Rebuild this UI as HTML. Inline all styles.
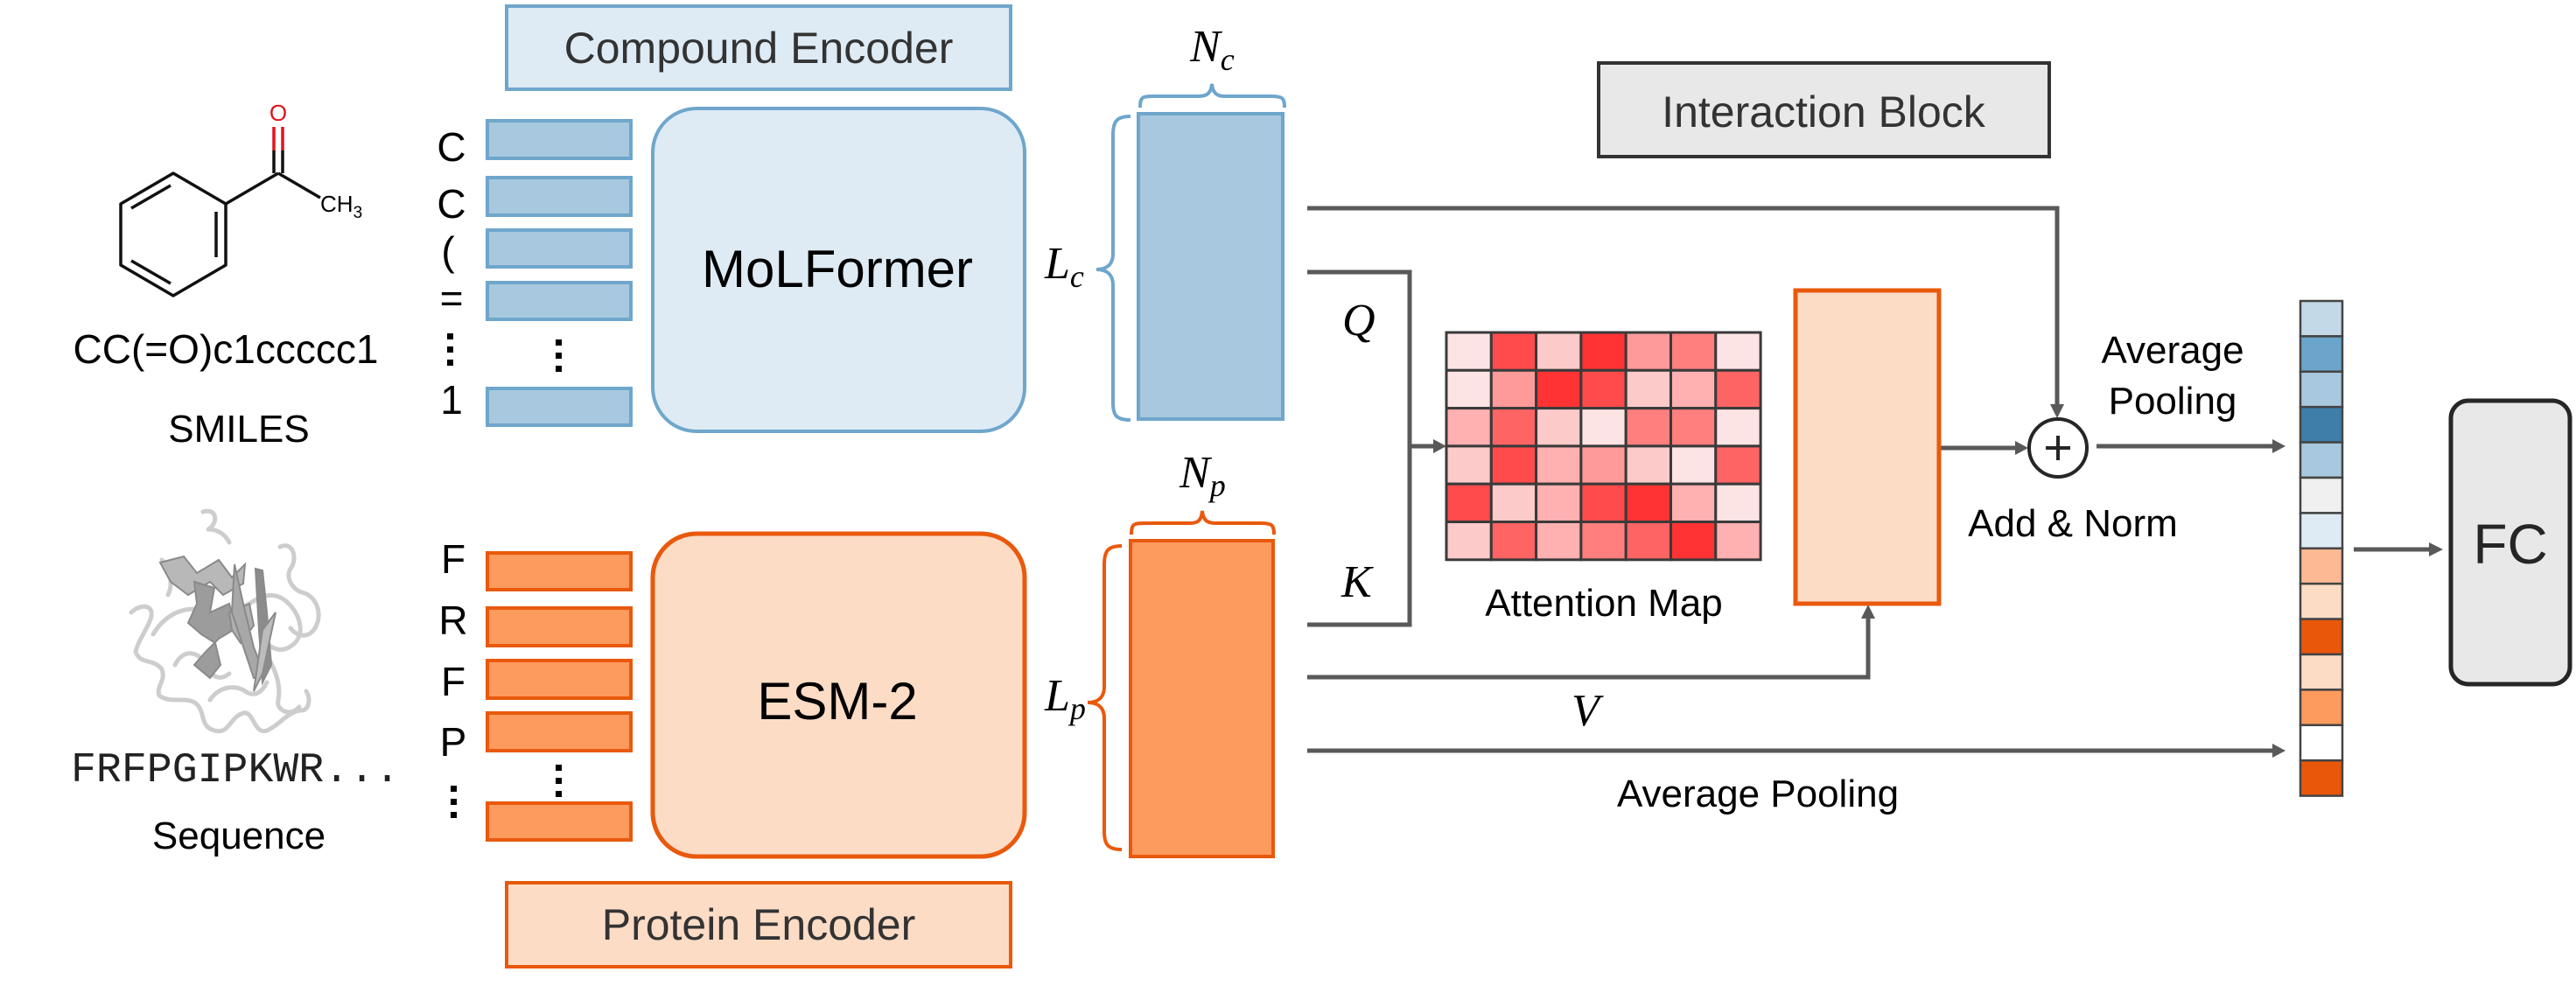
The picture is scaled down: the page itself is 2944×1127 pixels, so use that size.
<!DOCTYPE html>
<html><head><meta charset="utf-8"><style>
html,body{margin:0;padding:0;background:#fff;}
svg{display:block;}
text{font-family:"Liberation Sans",sans-serif;fill:#000;}
.m{font-family:"Liberation Serif",serif;font-style:italic;}
.mono{font-family:"Liberation Mono",monospace;}
</style></head><body>
<svg width="2944" height="1127" viewBox="0 0 2944 1127" xmlns="http://www.w3.org/2000/svg">
<!-- Molecule -->
<g stroke="#111" stroke-width="3.5" fill="none" stroke-linejoin="round">
<polygon points="198,198 258,233 258,303 198,338 138,303 138,233"/>
<line x1="150" y1="238" x2="195" y2="212"/>
<line x1="247" y1="242" x2="247" y2="294"/>
<line x1="150" y1="298" x2="195" y2="324"/>
<line x1="258" y1="233" x2="318" y2="198"/>
<line x1="318" y1="198" x2="366" y2="226"/>
<line x1="313" y1="198" x2="313" y2="172"/><line x1="323" y1="198" x2="323" y2="172"/>
</g>
<g stroke="#e0141c" stroke-width="3.5"><line x1="313" y1="172" x2="313" y2="145"/><line x1="323" y1="172" x2="323" y2="145"/></g>
<text x="318" y="138" font-size="26" text-anchor="middle" style="fill:#e0141c">O</text>
<text x="366" y="242" font-size="26">CH<tspan font-size="19" dy="7">3</tspan></text>
<text x="258" y="415" font-size="46" text-anchor="middle">CC(=O)c1ccccc1</text>
<text x="273" y="505" font-size="44" text-anchor="middle">SMILES</text>

<!-- Protein structure -->
<g fill="none" stroke="#cdcdcd" stroke-width="5" stroke-linecap="round" stroke-linejoin="round">
<path d="M232,585 C248,580 250,598 238,605 C250,605 258,612 262,620"/>
<path d="M150,700 C160,690 178,690 172,708 C165,725 158,732 155,745 C160,760 175,752 185,765 C190,778 178,785 182,795 C195,805 215,795 225,805 C235,815 228,830 245,835 C262,840 262,820 278,815 C290,812 290,840 305,835 C318,830 330,812 345,812 C352,812 356,800 350,790"/>
<path d="M175,725 C190,700 215,690 240,700 C260,708 265,700 285,690 C300,680 315,675 330,690 C345,705 350,730 330,740 C315,748 300,735 300,720"/>
<path d="M185,640 C195,650 198,668 192,680 M320,625 C336,618 340,640 332,650 C326,660 334,675 348,678 C360,682 370,700 360,718 C352,730 340,728 332,718"/>
<path d="M200,760 C210,740 228,745 235,760 C242,775 252,778 262,770 M240,800 C250,785 268,782 280,790 C292,798 300,790 305,780"/>
<path d="M300,740 C312,760 322,780 318,800 C315,812 332,820 342,808"/>
</g>
<g stroke="#8a8a8a" stroke-width="2">
<path d="M183,643 L210,636 L225,655 L250,640 L265,660 L280,645 L278,667 L255,680 L240,665 L215,680 L195,665 Z" fill="#b8b8b8"/>
<path d="M222,665 L245,672 L240,700 L262,690 L270,718 L250,730 L235,745 L222,760 L240,775 L252,760 L246,735 L230,725 L215,712 L225,690 Z" fill="#9c9c9c"/>
<path d="M262,700 L285,690 L290,715 L275,735 L265,720 Z" fill="#b0b0b0"/>
<path d="M268,645 L278,690 L290,740 L302,770 L290,775 L280,745 L265,700 Z" fill="#a8a8a8"/>
<path d="M292,650 L300,652 L305,700 L310,760 L300,780 L296,720 Z" fill="#8c8c8c"/>
<path d="M300,720 L315,700 L300,770 L290,790 Z" fill="#bcbcbc"/>
</g>
<text x="81" y="893" font-size="48" class="mono" textLength="376" lengthAdjust="spacingAndGlyphs" style="fill:#222">FRFPGIPKWR...</text>
<text x="273" y="970" font-size="44" text-anchor="middle">Sequence</text>

<!-- Compound encoder -->
<rect x="579" y="7" width="576" height="95" fill="#deebf5" stroke="#6fa6cc" stroke-width="4"/>
<text x="867" y="72" font-size="50" text-anchor="middle" style="fill:#333">Compound Encoder</text>
<g fill="#a7c8de" stroke="#6fa6cc" stroke-width="4">
<rect x="557" y="138" width="164" height="43"/>
<rect x="557" y="203" width="164" height="43"/>
<rect x="557" y="263" width="164" height="42"/>
<rect x="557" y="323" width="164" height="42"/>
<rect x="557" y="444" width="164" height="42"/>
</g>
<g font-size="46" text-anchor="middle">
<text x="516" y="184">C</text><text x="516" y="249">C</text><text x="512" y="303">(</text><text x="516" y="357">=</text><text x="516" y="473">1</text>
</g>
<g fill="#000"><rect x="511" y="381" width="7" height="7"/><rect x="511" y="396" width="7" height="7"/><rect x="511" y="411" width="7" height="7"/>
<rect x="635" y="388" width="7" height="7"/><rect x="635" y="403" width="7" height="7"/><rect x="635" y="418" width="7" height="7"/></g>
<rect x="746" y="124" width="425" height="369" rx="50" fill="#deebf5" stroke="#6fa6cc" stroke-width="4"/>
<text x="957" y="328" font-size="60" text-anchor="middle">MoLFormer</text>
<text x="1194" y="318" font-size="52" class="m">L<tspan font-size="36" dy="10">c</tspan></text>
<path d="M1292,133 C1275,133 1272,140 1272,155 L1272,290 C1272,302 1265,308 1253,308 C1265,308 1272,314 1272,326 L1272,460 C1272,474 1275,480 1292,480" fill="none" stroke="#6fa6cc" stroke-width="4"/>
<rect x="1301" y="130" width="165" height="349" fill="#a7c8de" stroke="#6fa6cc" stroke-width="4"/>
<path d="M1303,123 C1303,110 1306,110 1320,110 L1370,110 C1380,110 1384,106 1385,96 C1386,106 1390,110 1400,110 L1452,110 C1466,110 1468,112 1468,123" fill="none" stroke="#6fa6cc" stroke-width="4"/>
<text x="1360" y="70" font-size="52" class="m">N<tspan font-size="36" dy="10">c</tspan></text>

<!-- Protein encoder -->
<g fill="#fd9a5e" stroke="#e9590c" stroke-width="4">
<rect x="557" y="632" width="164" height="42"/>
<rect x="557" y="695" width="164" height="43"/>
<rect x="557" y="755" width="164" height="43"/>
<rect x="557" y="815" width="164" height="43"/>
<rect x="557" y="918" width="164" height="42"/>
</g>
<g font-size="46" class="mono" text-anchor="middle">
<text x="518" y="655">F</text><text x="518" y="725">R</text><text x="518" y="795">F</text><text x="518" y="864">P</text>
</g>
<g fill="#000"><rect x="515" y="898" width="7" height="7"/><rect x="515" y="913" width="7" height="7"/><rect x="515" y="928" width="7" height="7"/>
<rect x="635" y="874" width="7" height="7"/><rect x="635" y="889" width="7" height="7"/><rect x="635" y="904" width="7" height="7"/></g>
<rect x="746" y="610" width="425" height="369" rx="50" fill="#fddcc6" stroke="#e9590c" stroke-width="5"/>
<text x="957" y="822" font-size="60" text-anchor="middle">ESM-2</text>
<text x="1194" y="812" font-size="52" class="m">L<tspan font-size="36" dy="10">p</tspan></text>
<path d="M1282,624 C1265,624 1262,631 1262,646 L1262,785 C1262,797 1255,803 1243,803 C1255,803 1262,809 1262,821 L1262,950 C1262,964 1265,971 1282,971" fill="none" stroke="#e9590c" stroke-width="4"/>
<rect x="1292" y="618" width="163" height="361" fill="#fd9a5e" stroke="#e9590c" stroke-width="4"/>
<path d="M1293,611 C1293,598 1296,598 1310,598 L1360,598 C1370,598 1373,594 1374,584 C1375,594 1379,598 1389,598 L1440,598 C1454,598 1456,600 1456,611" fill="none" stroke="#e9590c" stroke-width="4"/>
<text x="1348" y="557" font-size="52" class="m">N<tspan font-size="36" dy="10">p</tspan></text>
<rect x="579" y="1009" width="576" height="96" fill="#fddcc6" stroke="#e9590c" stroke-width="4"/>
<text x="867" y="1074" font-size="50" text-anchor="middle" style="fill:#333">Protein Encoder</text>

<!-- Interaction block -->
<rect x="1827" y="72" width="515" height="107" fill="#e8e8e8" stroke="#333" stroke-width="4"/>
<text x="2084" y="145" font-size="50" text-anchor="middle" style="fill:#333">Interaction Block</text>
<g stroke="#595959" stroke-width="5" fill="none">
<polyline points="1494,238 2351,238 2351,462"/>
<polyline points="1494,311 1611,311 1611,714 1494,714"/>
<line x1="1611" y1="510" x2="1640" y2="510"/>
<polyline points="1494,774 2135,774 2135,705"/>
<line x1="1494" y1="858" x2="2598" y2="858"/>
<line x1="2216" y1="512" x2="2305" y2="512"/>
<line x1="2396" y1="510" x2="2598" y2="510"/>
<line x1="2690" y1="628" x2="2776" y2="628"/>
</g>
<g fill="#595959">
<polygon points="1653,510 1638,502 1638,518"/>
<polygon points="2351,478 2343,462 2359,462"/>
<polygon points="2135,691 2127,707 2143,707"/>
<polygon points="2318,512 2303,504 2303,520"/>
<polygon points="2612,510 2597,502 2597,518"/>
<polygon points="2612,858 2597,850 2597,866"/>
<polygon points="2792,628 2776,620 2776,636"/>
</g>
<text x="1534" y="383" font-size="52" class="m">Q</text>
<text x="1533" y="682" font-size="52" class="m">K</text>
<text x="1796" y="829" font-size="52" class="m">V</text>

<!-- Heatmap -->
<g stroke="#3a3a3a" stroke-width="3">
<g transform="translate(1653,380)">
<rect x="0" y="0" width="51.3" height="43.3" fill="#fde4e4"/><rect x="51.3" y="0" width="51.3" height="43.3" fill="#ff4b4b"/><rect x="102.6" y="0" width="51.3" height="43.3" fill="#fdcaca"/><rect x="153.9" y="0" width="51.3" height="43.3" fill="#ff3333"/><rect x="205.2" y="0" width="51.3" height="43.3" fill="#ff9a9a"/><rect x="256.5" y="0" width="51.3" height="43.3" fill="#ff7e7e"/><rect x="307.8" y="0" width="51.3" height="43.3" fill="#fde4e4"/>
<rect x="0" y="43.3" width="51.3" height="43.3" fill="#fde4e4"/><rect x="51.3" y="43.3" width="51.3" height="43.3" fill="#ff9a9a"/><rect x="102.6" y="43.3" width="51.3" height="43.3" fill="#ff3333"/><rect x="153.9" y="43.3" width="51.3" height="43.3" fill="#ff4b4b"/><rect x="205.2" y="43.3" width="51.3" height="43.3" fill="#fdcaca"/><rect x="256.5" y="43.3" width="51.3" height="43.3" fill="#ffb0b0"/><rect x="307.8" y="43.3" width="51.3" height="43.3" fill="#ff6464"/>
<rect x="0" y="86.6" width="51.3" height="43.3" fill="#ffb0b0"/><rect x="51.3" y="86.6" width="51.3" height="43.3" fill="#ff6464"/><rect x="102.6" y="86.6" width="51.3" height="43.3" fill="#fdcaca"/><rect x="153.9" y="86.6" width="51.3" height="43.3" fill="#fde4e4"/><rect x="205.2" y="86.6" width="51.3" height="43.3" fill="#ff7e7e"/><rect x="256.5" y="86.6" width="51.3" height="43.3" fill="#ff7e7e"/><rect x="307.8" y="86.6" width="51.3" height="43.3" fill="#fde4e4"/>
<rect x="0" y="129.9" width="51.3" height="43.3" fill="#fdcaca"/><rect x="51.3" y="129.9" width="51.3" height="43.3" fill="#ff4b4b"/><rect x="102.6" y="129.9" width="51.3" height="43.3" fill="#ffb0b0"/><rect x="153.9" y="129.9" width="51.3" height="43.3" fill="#ff9a9a"/><rect x="205.2" y="129.9" width="51.3" height="43.3" fill="#fdcaca"/><rect x="256.5" y="129.9" width="51.3" height="43.3" fill="#fde4e4"/><rect x="307.8" y="129.9" width="51.3" height="43.3" fill="#ff6464"/>
<rect x="0" y="173.2" width="51.3" height="43.3" fill="#ff4b4b"/><rect x="51.3" y="173.2" width="51.3" height="43.3" fill="#fdcaca"/><rect x="102.6" y="173.2" width="51.3" height="43.3" fill="#ffb0b0"/><rect x="153.9" y="173.2" width="51.3" height="43.3" fill="#ff4b4b"/><rect x="205.2" y="173.2" width="51.3" height="43.3" fill="#ff3333"/><rect x="256.5" y="173.2" width="51.3" height="43.3" fill="#ffb0b0"/><rect x="307.8" y="173.2" width="51.3" height="43.3" fill="#fde4e4"/>
<rect x="0" y="216.5" width="51.3" height="43.3" fill="#fdcaca"/><rect x="51.3" y="216.5" width="51.3" height="43.3" fill="#ff6464"/><rect x="102.6" y="216.5" width="51.3" height="43.3" fill="#ffb0b0"/><rect x="153.9" y="216.5" width="51.3" height="43.3" fill="#ff7e7e"/><rect x="205.2" y="216.5" width="51.3" height="43.3" fill="#ff6464"/><rect x="256.5" y="216.5" width="51.3" height="43.3" fill="#ff3333"/><rect x="307.8" y="216.5" width="51.3" height="43.3" fill="#ffb0b0"/>
</g></g>
<text x="1833" y="704" font-size="44" text-anchor="middle">Attention Map</text>

<rect x="2052" y="332" width="164" height="358" fill="#fddcc6" stroke="#e9590c" stroke-width="5"/>
<circle cx="2352" cy="512" r="33" fill="#fff" stroke="#262626" stroke-width="4"/>
<g stroke="#262626" stroke-width="4"><line x1="2338" y1="512" x2="2366" y2="512"/><line x1="2352" y1="498" x2="2352" y2="526"/></g>
<text x="2369" y="613" font-size="44" text-anchor="middle">Add &amp; Norm</text>
<text x="2483" y="415" font-size="44" text-anchor="middle">Average</text>
<text x="2483" y="473" font-size="44" text-anchor="middle">Pooling</text>
<text x="2009" y="922" font-size="44" text-anchor="middle">Average Pooling</text>

<!-- vector -->
<g stroke="#444" stroke-width="2.5" transform="translate(2629,344)">
<rect x="0" y="0" width="48" height="40.4" fill="#c3d9e8"/>
<rect x="0" y="40.4" width="48" height="40.4" fill="#6ba5cb"/>
<rect x="0" y="80.8" width="48" height="40.4" fill="#a7c8de"/>
<rect x="0" y="121.2" width="48" height="40.4" fill="#3e7ea9"/>
<rect x="0" y="161.6" width="48" height="40.4" fill="#a7c8de"/>
<rect x="0" y="202" width="48" height="40.4" fill="#f0f0f0"/>
<rect x="0" y="242.4" width="48" height="40.4" fill="#deebf5"/>
<rect x="0" y="282.8" width="48" height="40.4" fill="#fdb994"/>
<rect x="0" y="323.2" width="48" height="40.4" fill="#fddcc6"/>
<rect x="0" y="363.6" width="48" height="40.4" fill="#e9570a"/>
<rect x="0" y="404" width="48" height="40.4" fill="#fddcc6"/>
<rect x="0" y="444.4" width="48" height="40.4" fill="#fd9a5e"/>
<rect x="0" y="484.8" width="48" height="40.4" fill="#ffffff"/>
<rect x="0" y="525.2" width="48" height="40.4" fill="#e9570a"/>
</g>
<rect x="2801" y="458" width="136" height="324" rx="20" fill="#e8e8e8" stroke="#262626" stroke-width="5"/>
<text x="2869" y="644" font-size="64" text-anchor="middle" style="fill:#262626">FC</text>
</svg>
</body></html>
